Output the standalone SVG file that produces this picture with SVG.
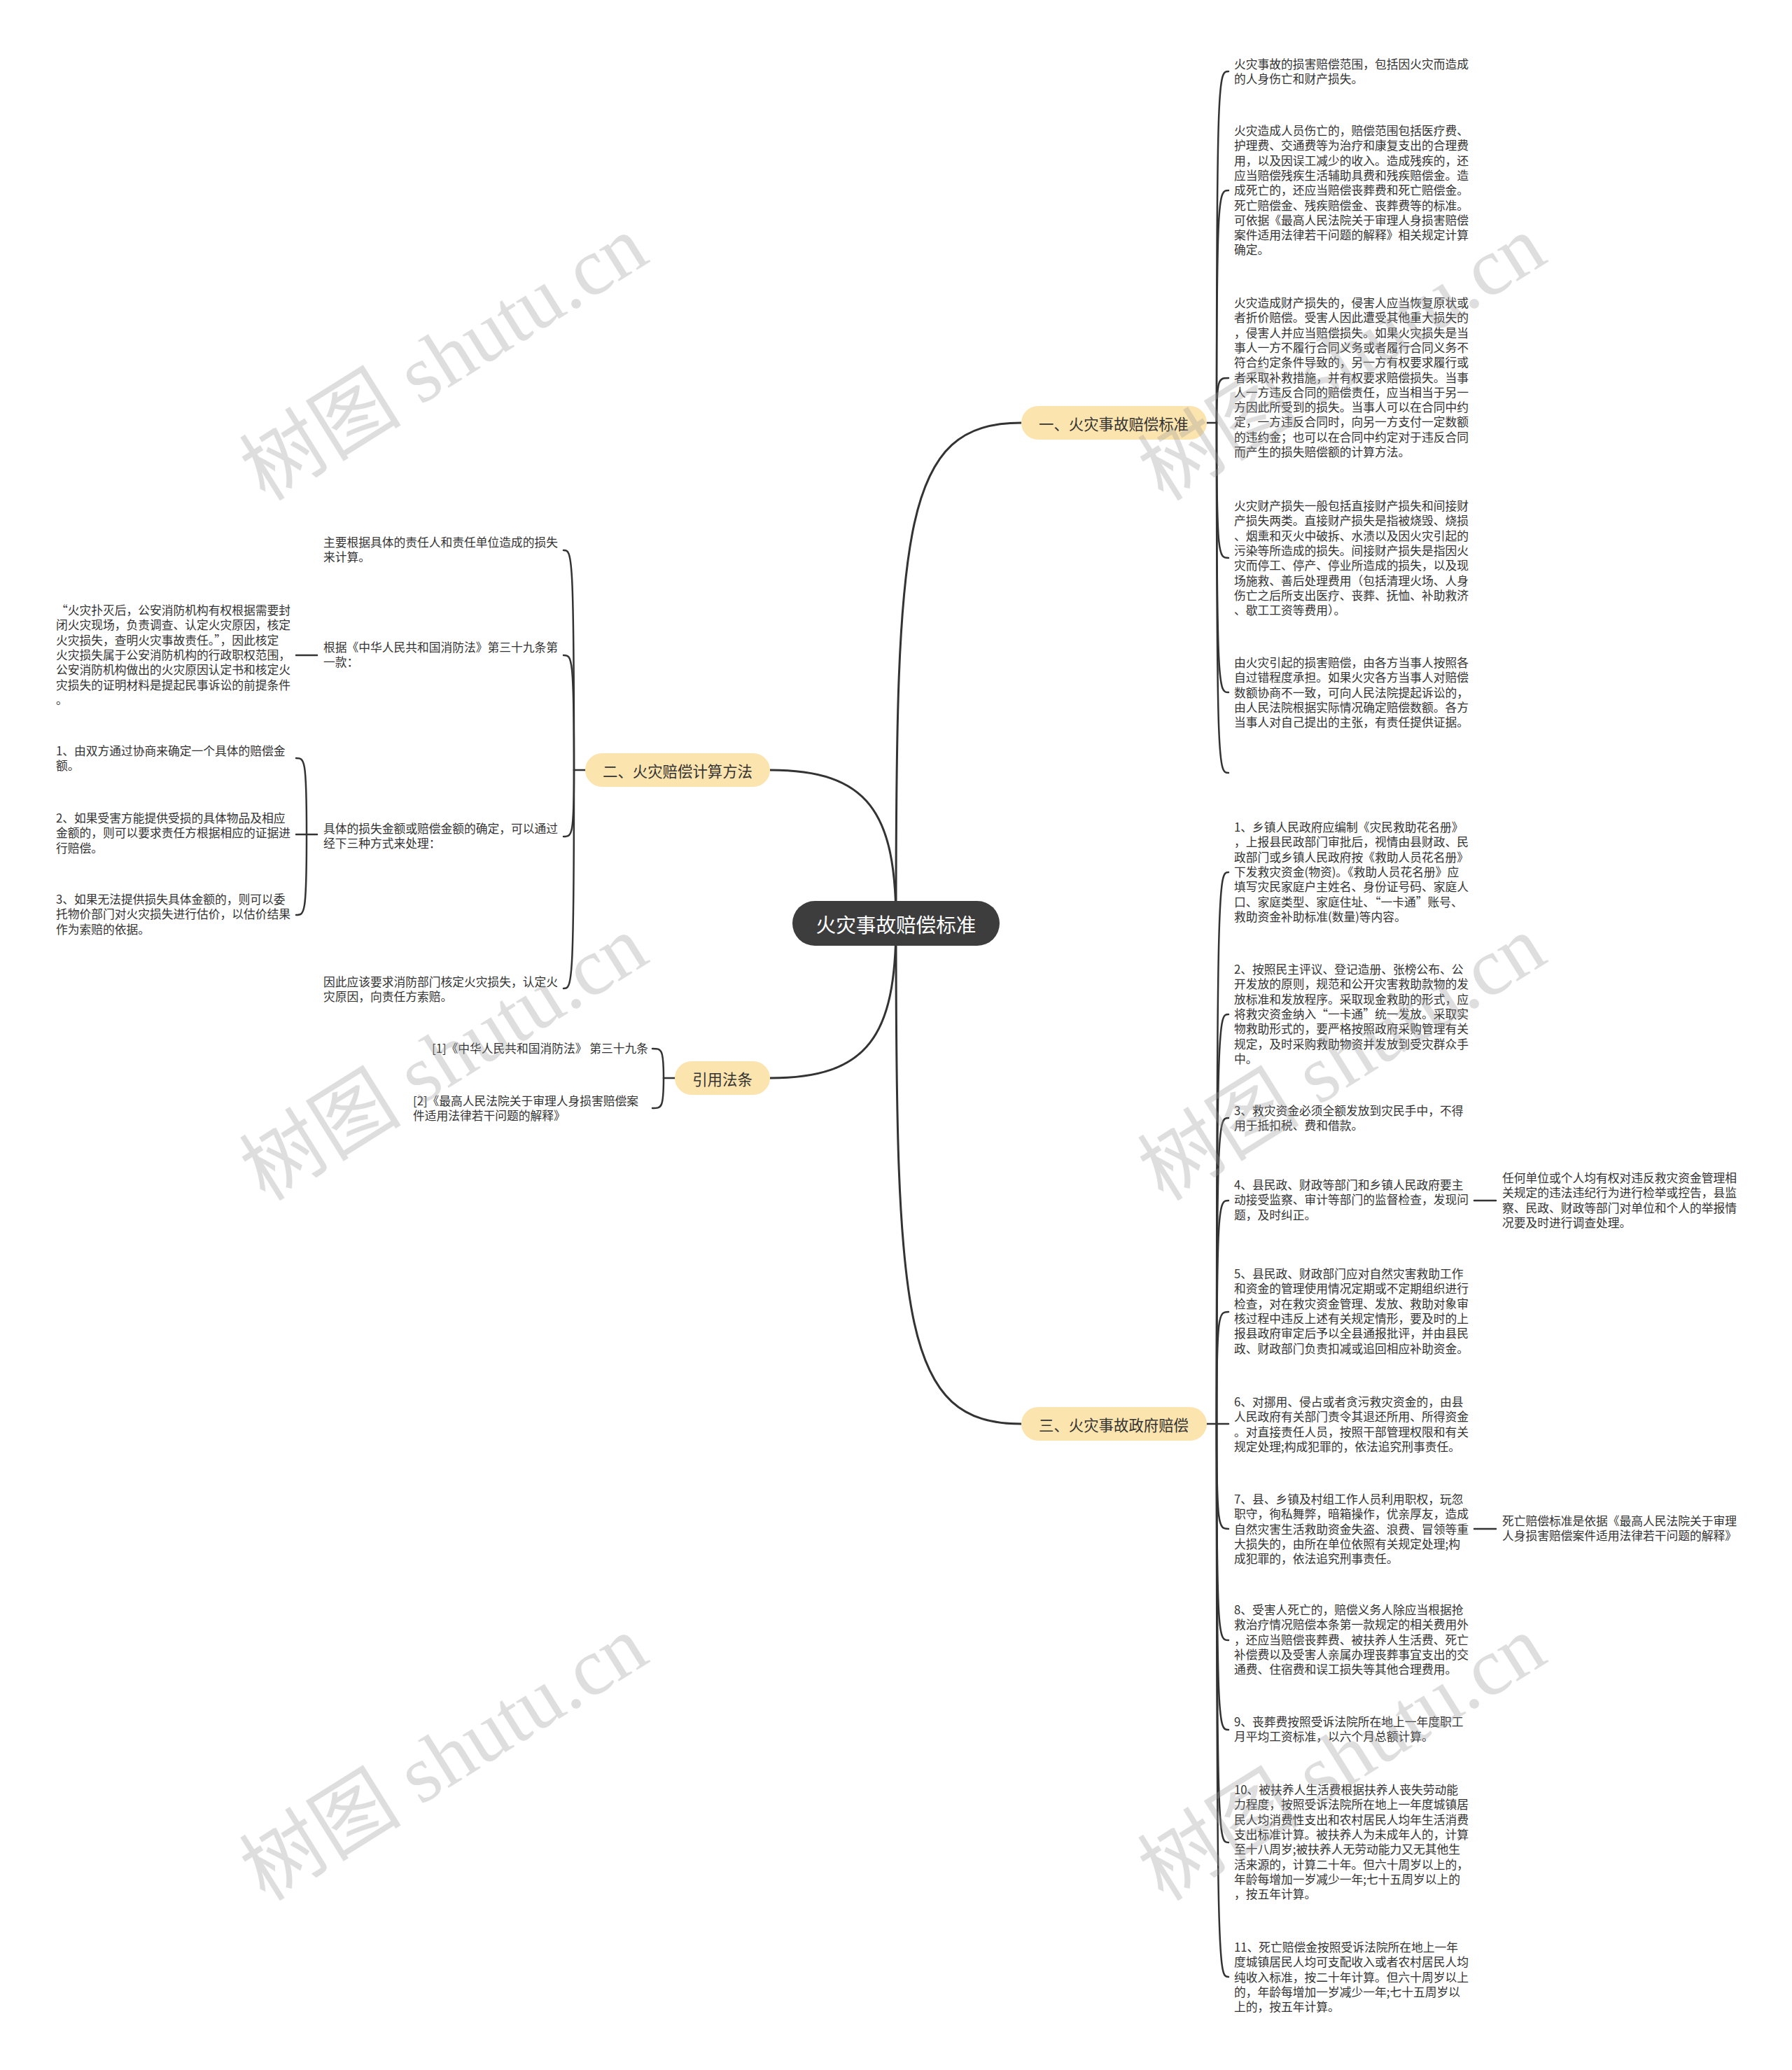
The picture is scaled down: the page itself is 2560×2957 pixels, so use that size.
<svg xmlns="http://www.w3.org/2000/svg" width="2560" height="2957" viewBox="0 0 2560 2957">
<style>
.t{font-family:"Noto Sans CJK SC","Noto Sans",sans-serif;font-size:16.75px;fill:#333}
.br{fill:#FCE4AE}
.brt{font-family:"Noto Sans CJK SC","Noto Sans",sans-serif;font-size:21.4px;fill:#333;text-anchor:middle;dominant-baseline:central}
.c{fill:none;stroke:#333;stroke-width:2.5;stroke-linecap:round}
.cm{fill:none;stroke:#333;stroke-width:3}
.wm{font-family:"Liberation Serif","Noto Sans CJK SC",serif;font-size:116px;fill:#9a9a9a;opacity:0.32;text-anchor:middle}
</style>
<rect width="2560" height="2957" fill="#fff"/>
<g id="connectors">
<path class="cm" d="M1280 1319 C1280 750 1290 604 1459 604"/>
<path class="cm" d="M1280 1319 C1280 1888 1290 2034 1459 2034"/>
<path class="cm" d="M1280 1319 C1280 1160 1240 1100 1100 1100"/>
<path class="cm" d="M1280 1319 C1280 1480 1240 1540 1100 1540"/>
<path class="c" d="M1724 604 L1738 604"/>
<path class="c" d="M1738 604 C1738 102 1741 102 1755 102"/>
<path class="c" d="M1738 604 C1738 272 1741 272 1755 272"/>
<path class="c" d="M1738 604 C1738 540 1741 540 1755 540"/>
<path class="c" d="M1738 604 C1738 797 1741 797 1755 797"/>
<path class="c" d="M1738 604 C1738 989 1741 989 1755 989"/>
<path class="c" d="M1738 604 C1738 1104 1741 1104 1755 1104"/>
<path class="c" d="M1724 2034 L1738 2034"/>
<path class="c" d="M1738 2034 C1738 1246 1741 1246 1755 1246"/>
<path class="c" d="M1738 2034 C1738 1449 1741 1449 1755 1449"/>
<path class="c" d="M1738 2034 C1738 1597 1741 1597 1755 1597"/>
<path class="c" d="M1738 2034 C1738 1715 1741 1715 1755 1715"/>
<path class="c" d="M1738 2034 C1738 1874 1741 1874 1755 1874"/>
<path class="c" d="M1738 2034 L1755 2034"/>
<path class="c" d="M1738 2034 C1738 2184 1741 2184 1755 2184"/>
<path class="c" d="M1738 2034 C1738 2343 1741 2343 1755 2343"/>
<path class="c" d="M1738 2034 C1738 2471 1741 2471 1755 2471"/>
<path class="c" d="M1738 2034 C1738 2632 1741 2632 1755 2632"/>
<path class="c" d="M1738 2034 C1738 2824 1741 2824 1755 2824"/>
<path class="c" d="M2106 1715 L2137 1715"/>
<path class="c" d="M2106 2184 L2137 2184"/>
<path class="c" d="M836 1100 L820 1100"/>
<path class="c" d="M820 1100 C820 786 817 786 805 786"/>
<path class="c" d="M820 1100 C820 936 817 936 805 936"/>
<path class="c" d="M820 1100 C820 1195 817 1195 805 1195"/>
<path class="c" d="M820 1100 C820 1412 817 1412 805 1412"/>
<path class="c" d="M453 936 L423 936"/>
<path class="c" d="M453 1192 L438 1192"/>
<path class="c" d="M438 1192 C438 1083 435 1083 423 1083"/>
<path class="c" d="M438 1192 L423 1192"/>
<path class="c" d="M438 1192 C438 1307 435 1307 423 1307"/>
<path class="c" d="M964 1540 L948 1540"/>
<path class="c" d="M948 1540 C948 1498 945 1498 932 1498"/>
<path class="c" d="M948 1540 C948 1583 945 1583 932 1583"/>
</g>
<g id="root">
<rect x="1132" y="1287" width="296" height="64" rx="32" fill="#3d3d3d"/>
<text x="1280" y="1319" style="font-family:'Noto Sans CJK SC',sans-serif;font-size:28.6px;fill:#fff;text-anchor:middle;dominant-baseline:central">火灾事故赔偿标准</text>
</g>
<g id="branch1">
<rect class="br" x="1459" y="580" width="265" height="48" rx="24"/>
<text class="brt" x="1591" y="604">一、火灾事故赔偿标准</text>
</g>
<g id="branch2">
<rect class="br" x="836" y="1076" width="264" height="48" rx="24"/>
<text class="brt" x="968" y="1100">二、火灾赔偿计算方法</text>
</g>
<g id="branch4">
<rect class="br" x="964" y="1516" width="136" height="48" rx="24"/>
<text class="brt" x="1032" y="1540">引用法条</text>
</g>
<g id="branch3">
<rect class="br" x="1459" y="2010" width="265" height="48" rx="24"/>
<text class="brt" x="1591" y="2034">三、火灾事故政府赔偿</text>
</g>
<g id="n1-1"><text class="t" x="1763" y="98"><tspan x="1763">火灾事故的损害赔偿范围，包括因火灾而造成</tspan><tspan x="1763" dy="21.3">的人身伤亡和财产损失。</tspan></text></g>
<g id="n1-2"><text class="t" x="1763" y="193"><tspan x="1763">火灾造成人员伤亡的，赔偿范围包括医疗费、</tspan><tspan x="1763" dy="21.3">护理费、交通费等为治疗和康复支出的合理费</tspan><tspan x="1763" dy="21.3">用，以及因误工减少的收入。造成残疾的，还</tspan><tspan x="1763" dy="21.3">应当赔偿残疾生活辅助具费和残疾赔偿金。造</tspan><tspan x="1763" dy="21.3">成死亡的，还应当赔偿丧葬费和死亡赔偿金。</tspan><tspan x="1763" dy="21.3">死亡赔偿金、残疾赔偿金、丧葬费等的标准。</tspan><tspan x="1763" dy="21.3">可依据《最高人民法院关于审理人身损害赔偿</tspan><tspan x="1763" dy="21.3">案件适用法律若干问题的解释》相关规定计算</tspan><tspan x="1763" dy="21.3">确定。</tspan></text></g>
<g id="n1-3"><text class="t" x="1763" y="439"><tspan x="1763">火灾造成财产损失的，侵害人应当恢复原状或</tspan><tspan x="1763" dy="21.3">者折价赔偿。受害人因此遭受其他重大损失的</tspan><tspan x="1763" dy="21.3">，侵害人并应当赔偿损失。如果火灾损失是当</tspan><tspan x="1763" dy="21.3">事人一方不履行合同义务或者履行合同义务不</tspan><tspan x="1763" dy="21.3">符合约定条件导致的，另一方有权要求履行或</tspan><tspan x="1763" dy="21.3">者采取补救措施，并有权要求赔偿损失。当事</tspan><tspan x="1763" dy="21.3">人一方违反合同的赔偿责任，应当相当于另一</tspan><tspan x="1763" dy="21.3">方因此所受到的损失。当事人可以在合同中约</tspan><tspan x="1763" dy="21.3">定，一方违反合同时，向另一方支付一定数额</tspan><tspan x="1763" dy="21.3">的违约金；也可以在合同中约定对于违反合同</tspan><tspan x="1763" dy="21.3">而产生的损失赔偿额的计算方法。</tspan></text></g>
<g id="n1-4"><text class="t" x="1763" y="729"><tspan x="1763">火灾财产损失一般包括直接财产损失和间接财</tspan><tspan x="1763" dy="21.3">产损失两类。直接财产损失是指被烧毁、烧损</tspan><tspan x="1763" dy="21.3">、烟熏和灭火中破拆、水渍以及因火灾引起的</tspan><tspan x="1763" dy="21.3">污染等所造成的损失。间接财产损失是指因火</tspan><tspan x="1763" dy="21.3">灾而停工、停产、停业所造成的损失，以及现</tspan><tspan x="1763" dy="21.3">场施救、善后处理费用（包括清理火场、人身</tspan><tspan x="1763" dy="21.3">伤亡之后所支出医疗、丧葬、抚恤、补助救济</tspan><tspan x="1763" dy="21.3">、歇工工资等费用）。</tspan></text></g>
<g id="n1-5"><text class="t" x="1763" y="953"><tspan x="1763">由火灾引起的损害赔偿，由各方当事人按照各</tspan><tspan x="1763" dy="21.3">自过错程度承担。如果火灾各方当事人对赔偿</tspan><tspan x="1763" dy="21.3">数额协商不一致，可向人民法院提起诉讼的，</tspan><tspan x="1763" dy="21.3">由人民法院根据实际情况确定赔偿数额。各方</tspan><tspan x="1763" dy="21.3">当事人对自己提出的主张，有责任提供证据。</tspan></text></g>
<g id="n2-1"><text class="t" x="462" y="781"><tspan x="462">主要根据具体的责任人和责任单位造成的损失</tspan><tspan x="462" dy="21.3">来计算。</tspan></text></g>
<g id="n2-2"><text class="t" x="462" y="931"><tspan x="462">根据《中华人民共和国消防法》第三十九条第</tspan><tspan x="462" dy="21.3">一款：</tspan></text></g>
<g id="n2-2-1"><text class="t" x="80" y="878"><tspan x="80">“火灾扑灭后，公安消防机构有权根据需要封</tspan><tspan x="80" dy="21.3">闭火灾现场，负责调查、认定火灾原因，核定</tspan><tspan x="80" dy="21.3">火灾损失，查明火灾事故责任。”，因此核定</tspan><tspan x="80" dy="21.3">火灾损失属于公安消防机构的行政职权范围，</tspan><tspan x="80" dy="21.3">公安消防机构做出的火灾原因认定书和核定火</tspan><tspan x="80" dy="21.3">灾损失的证明材料是提起民事诉讼的前提条件</tspan><tspan x="80" dy="21.3">。</tspan></text></g>
<g id="n2-3"><text class="t" x="462" y="1190"><tspan x="462">具体的损失金额或赔偿金额的确定，可以通过</tspan><tspan x="462" dy="21.3">经下三种方式来处理：</tspan></text></g>
<g id="n2-3-1"><text class="t" x="80" y="1079"><tspan x="80">1、由双方通过协商来确定一个具体的赔偿金</tspan><tspan x="80" dy="21.3">额。</tspan></text></g>
<g id="n2-3-2"><text class="t" x="80" y="1175"><tspan x="80">2、如果受害方能提供受损的具体物品及相应</tspan><tspan x="80" dy="21.3">金额的，则可以要求责任方根据相应的证据进</tspan><tspan x="80" dy="21.3">行赔偿。</tspan></text></g>
<g id="n2-3-3"><text class="t" x="80" y="1291"><tspan x="80">3、如果无法提供损失具体金额的，则可以委</tspan><tspan x="80" dy="21.3">托物价部门对火灾损失进行估价，以估价结果</tspan><tspan x="80" dy="21.3">作为索赔的依据。</tspan></text></g>
<g id="n2-4"><text class="t" x="462" y="1409"><tspan x="462">因此应该要求消防部门核定火灾损失，认定火</tspan><tspan x="462" dy="21.3">灾原因，向责任方索赔。</tspan></text></g>
<g id="n4-1"><text class="t" x="617" y="1504">[1]《中华人民共和国消防法》 第三十九条</text></g>
<g id="n4-2"><text class="t" x="590" y="1579"><tspan x="590">[2]《最高人民法院关于审理人身损害赔偿案</tspan><tspan x="590" dy="21.3">件适用法律若干问题的解释》</tspan></text></g>
<g id="n3-1"><text class="t" x="1763" y="1188"><tspan x="1763">1、乡镇人民政府应编制《灾民救助花名册》</tspan><tspan x="1763" dy="21.3">，上报县民政部门审批后，视情由县财政、民</tspan><tspan x="1763" dy="21.3">政部门或乡镇人民政府按《救助人员花名册》</tspan><tspan x="1763" dy="21.3">下发救灾资金(物资)。《救助人员花名册》应</tspan><tspan x="1763" dy="21.3">填写灾民家庭户主姓名、身份证号码、家庭人</tspan><tspan x="1763" dy="21.3">口、家庭类型、家庭住址、“一卡通”账号、</tspan><tspan x="1763" dy="21.3">救助资金补助标准(数量)等内容。</tspan></text></g>
<g id="n3-2"><text class="t" x="1763" y="1391"><tspan x="1763">2、按照民主评议、登记造册、张榜公布、公</tspan><tspan x="1763" dy="21.3">开发放的原则，规范和公开灾害救助款物的发</tspan><tspan x="1763" dy="21.3">放标准和发放程序。采取现金救助的形式，应</tspan><tspan x="1763" dy="21.3">将救灾资金纳入“一卡通”统一发放。采取实</tspan><tspan x="1763" dy="21.3">物救助形式的，要严格按照政府采购管理有关</tspan><tspan x="1763" dy="21.3">规定，及时采购救助物资并发放到受灾群众手</tspan><tspan x="1763" dy="21.3">中。</tspan></text></g>
<g id="n3-3"><text class="t" x="1763" y="1593"><tspan x="1763">3、救灾资金必须全额发放到灾民手中，不得</tspan><tspan x="1763" dy="21.3">用于抵扣税、费和借款。</tspan></text></g>
<g id="n3-4"><text class="t" x="1763" y="1699"><tspan x="1763">4、县民政、财政等部门和乡镇人民政府要主</tspan><tspan x="1763" dy="21.3">动接受监察、审计等部门的监督检查，发现问</tspan><tspan x="1763" dy="21.3">题，及时纠正。</tspan></text></g>
<g id="n3-4-1"><text class="t" x="2146" y="1689"><tspan x="2146">任何单位或个人均有权对违反救灾资金管理相</tspan><tspan x="2146" dy="21.3">关规定的违法违纪行为进行检举或控告，县监</tspan><tspan x="2146" dy="21.3">察、民政、财政等部门对单位和个人的举报情</tspan><tspan x="2146" dy="21.3">况要及时进行调查处理。</tspan></text></g>
<g id="n3-5"><text class="t" x="1763" y="1826"><tspan x="1763">5、县民政、财政部门应对自然灾害救助工作</tspan><tspan x="1763" dy="21.3">和资金的管理使用情况定期或不定期组织进行</tspan><tspan x="1763" dy="21.3">检查，对在救灾资金管理、发放、救助对象审</tspan><tspan x="1763" dy="21.3">核过程中违反上述有关规定情形，要及时的上</tspan><tspan x="1763" dy="21.3">报县政府审定后予以全县通报批评，并由县民</tspan><tspan x="1763" dy="21.3">政、财政部门负责扣减或追回相应补助资金。</tspan></text></g>
<g id="n3-6"><text class="t" x="1763" y="2009"><tspan x="1763">6、对挪用、侵占或者贪污救灾资金的，由县</tspan><tspan x="1763" dy="21.3">人民政府有关部门责令其退还所用、所得资金</tspan><tspan x="1763" dy="21.3">。对直接责任人员，按照干部管理权限和有关</tspan><tspan x="1763" dy="21.3">规定处理;构成犯罪的，依法追究刑事责任。</tspan></text></g>
<g id="n3-7"><text class="t" x="1763" y="2148"><tspan x="1763">7、县、乡镇及村组工作人员利用职权，玩忽</tspan><tspan x="1763" dy="21.3">职守，徇私舞弊，暗箱操作，优亲厚友，造成</tspan><tspan x="1763" dy="21.3">自然灾害生活救助资金失盗、浪费、冒领等重</tspan><tspan x="1763" dy="21.3">大损失的，由所在单位依照有关规定处理;构</tspan><tspan x="1763" dy="21.3">成犯罪的，依法追究刑事责任。</tspan></text></g>
<g id="n3-7-1"><text class="t" x="2146" y="2179"><tspan x="2146">死亡赔偿标准是依据《最高人民法院关于审理</tspan><tspan x="2146" dy="21.3">人身损害赔偿案件适用法律若干问题的解释》</tspan></text></g>
<g id="n3-8"><text class="t" x="1763" y="2306"><tspan x="1763">8、受害人死亡的，赔偿义务人除应当根据抢</tspan><tspan x="1763" dy="21.3">救治疗情况赔偿本条第一款规定的相关费用外</tspan><tspan x="1763" dy="21.3">，还应当赔偿丧葬费、被扶养人生活费、死亡</tspan><tspan x="1763" dy="21.3">补偿费以及受害人亲属办理丧葬事宜支出的交</tspan><tspan x="1763" dy="21.3">通费、住宿费和误工损失等其他合理费用。</tspan></text></g>
<g id="n3-9"><text class="t" x="1763" y="2466"><tspan x="1763">9、丧葬费按照受诉法院所在地上一年度职工</tspan><tspan x="1763" dy="21.3">月平均工资标准，以六个月总额计算。</tspan></text></g>
<g id="n3-10"><text class="t" x="1763" y="2563"><tspan x="1763">10、被扶养人生活费根据扶养人丧失劳动能</tspan><tspan x="1763" dy="21.3">力程度，按照受诉法院所在地上一年度城镇居</tspan><tspan x="1763" dy="21.3">民人均消费性支出和农村居民人均年生活消费</tspan><tspan x="1763" dy="21.3">支出标准计算。被扶养人为未成年人的，计算</tspan><tspan x="1763" dy="21.3">至十八周岁;被扶养人无劳动能力又无其他生</tspan><tspan x="1763" dy="21.3">活来源的，计算二十年。但六十周岁以上的，</tspan><tspan x="1763" dy="21.3">年龄每增加一岁减少一年;七十五周岁以上的</tspan><tspan x="1763" dy="21.3">，按五年计算。</tspan></text></g>
<g id="n3-11"><text class="t" x="1763" y="2788"><tspan x="1763">11、死亡赔偿金按照受诉法院所在地上一年</tspan><tspan x="1763" dy="21.3">度城镇居民人均可支配收入或者农村居民人均</tspan><tspan x="1763" dy="21.3">纯收入标准，按二十年计算。但六十周岁以上</tspan><tspan x="1763" dy="21.3">的，年龄每增加一岁减少一年;七十五周岁以</tspan><tspan x="1763" dy="21.3">上的，按五年计算。</tspan></text></g>
<g id="watermarks">
<text class="wm" transform="translate(655 545) rotate(-32)">树图 shutu.cn</text>
<text class="wm" transform="translate(1938 545) rotate(-32)">树图 shutu.cn</text>
<text class="wm" transform="translate(655 1545) rotate(-32)">树图 shutu.cn</text>
<text class="wm" transform="translate(1938 1545) rotate(-32)">树图 shutu.cn</text>
<text class="wm" transform="translate(655 2545) rotate(-32)">树图 shutu.cn</text>
<text class="wm" transform="translate(1938 2545) rotate(-32)">树图 shutu.cn</text>
</g>
</svg>
